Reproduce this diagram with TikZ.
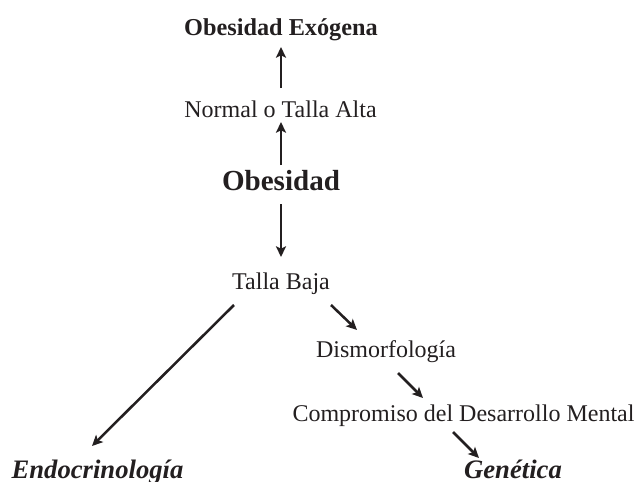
\documentclass[tikz,border=0pt]{standalone}
\usepackage{fontspec}
\setmainfont{Liberation Serif}
\usetikzlibrary{arrows.meta}
\definecolor{ink}{HTML}{231F20}
\begin{document}
\begin{tikzpicture}[x=0.75pt,y=-0.75pt,
  every node/.style={inner sep=0pt, anchor=base, text=ink},
  lbl/.style={font=\fontsize{18}{20}\selectfont},
  hdr/.style={font=\fontsize{18.2}{20}\selectfont\bfseries},
  big/.style={font=\fontsize{21.8}{24}\selectfont\bfseries},
  spec/.style={font=\fontsize{20}{22}\selectfont\bfseries\itshape},
  arr/.style={draw=ink, line width=1.9pt, -{Stealth[length=8pt,width=7.5pt,inset=1.8pt]}}]
\useasboundingbox (0,0) rectangle (640,482);
\node[hdr]  (exo)  at (281,35)  {Obesidad Exógena};
\node[lbl]  (norm) at (280.5,117) {Normal o Talla Alta};
\node[big]  (obes) at (281,190) {Obesidad};
\node[lbl]  (tb)   at (281,289) {Talla Baja};
\node[lbl]  (dis)  at (386,357) {Dismorfología};
\node[lbl]  (comp) at (463.5,421) {Compromiso del Desarrollo Mental};
\node[spec] (gen)  at (513,478) {Genética};
\node[spec] (endo) at (97.5,478) {Endocrinología};
\draw[arr] ([shift={(0.5,-29)}]norm.base) -- ([shift={(0,12)}]exo.base);
\draw[arr] ([shift={(0,-25)}]obes.base) -- ([shift={(0.5,5)}]norm.base);
\draw[arr] ([shift={(0,14)}]obes.base) -- ([shift={(0,-32)}]tb.base);
\draw[arr] ([shift={(-47,16)}]tb.base) -- ([shift={(-5.5,-32)}]endo.base);
\draw[arr] ([shift={(50,16)}]tb.base) -- ([shift={(-29,-27)}]dis.base);
\draw[arr] ([shift={(12,16)}]dis.base) -- ([shift={(-40.5,-23)}]comp.base);
\draw[arr] ([shift={(-10.5,11)}]comp.base) -- ([shift={(-34,-20)}]gen.base);
\end{tikzpicture}
\end{document}
